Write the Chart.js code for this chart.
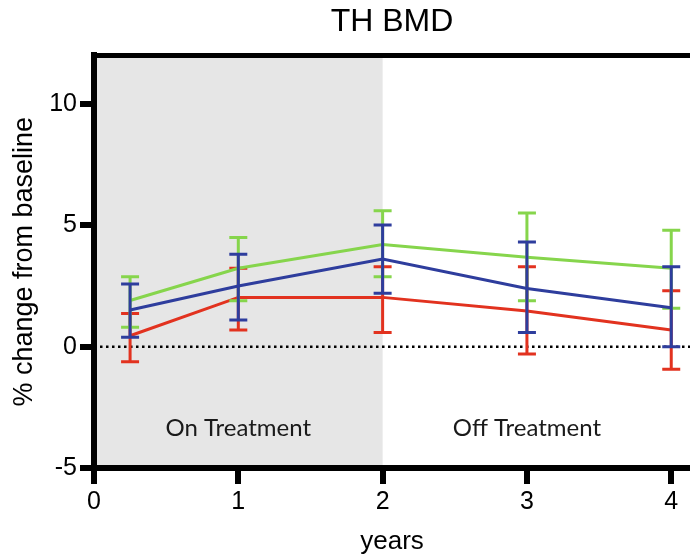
<!DOCTYPE html>
<html><head><meta charset="utf-8">
<script src="https://cdn.jsdelivr.net/npm/chart.js@4.4.0/dist/chart.umd.min.js"></script>
<style>html,body{margin:0;padding:0;background:#fff}#wrap{width:690px;height:555px;position:relative}</style>
</head><body><div id="wrap"><canvas id="c"></canvas></div>
<script>
// ---- data ----
const years = [0.25, 1, 2, 3, 4];
const greenMean  = [1.90, 3.23, 4.21, 3.68, 3.23];
const greenUpper = [2.88, 4.50, 5.60, 5.51, 4.80];
const greenLower = [0.80, 1.89, 2.88, 1.89, 1.58];
const blueMean   = [1.51, 2.50, 3.61, 2.40, 1.60];
const blueUpper  = [2.58, 3.81, 5.01, 4.31, 3.29];
const blueLower  = [0.39, 1.10, 2.20, 0.58, 0.00];
const redMean    = [0.45, 2.03, 2.03, 1.47, 0.69];
const redUpper   = [1.37, 3.23, 3.29, 3.29, 2.30];
const redLower   = [-0.62, 0.69, 0.58, -0.30, -0.93];
const xTicks = [0, 1, 2, 3, 4];
const yTicks = [-5, 0, 5, 10];
const treatmentEnd = 2;
const followEnd = 4;
const phaseLabels = ['On Treatment', 'Off Treatment'];

const toPts = arr => arr.map((v, i) => ({x: years[i], y: v}));

Chart.defaults.font.family = "'Liberation Sans', Arial, sans-serif";
Chart.defaults.color = '#000';

const bgPlugin = {
  id: 'bg',
  beforeDraw(chart) {
    const {ctx, chartArea: a, scales: {x, y}} = chart;
    ctx.save();
    const x0 = x.getPixelForValue(0), x1 = x.getPixelForValue(treatmentEnd);
    ctx.fillStyle = '#e6e6e6';
    ctx.fillRect(x0, a.top, x1 - x0, a.bottom - a.top);
    // zero line
    const y0 = y.getPixelForValue(0);
    ctx.strokeStyle = '#000';
    ctx.lineWidth = 2.5;
    ctx.setLineDash([2.5, 3.5]);
    ctx.beginPath(); ctx.moveTo(a.left + 6, y0); ctx.lineTo(a.right, y0); ctx.stroke();
    ctx.setLineDash([]);
    // phase labels
    ctx.font = "24px Lato, 'Open Sans', sans-serif";
    ctx.fillStyle = '#1a1a1a';
    ctx.textAlign = 'center';
    ctx.textBaseline = 'middle';
    const ly = y.getPixelForValue(-3.35);
    ctx.fillText(phaseLabels[0], x.getPixelForValue(treatmentEnd / 2), ly);
    ctx.fillText(phaseLabels[1], x.getPixelForValue((treatmentEnd + followEnd) / 2), ly);
    ctx.restore();
  },
  afterDraw(chart) {
    const {ctx, chartArea: a} = chart;
    ctx.save();
    ctx.strokeStyle = '#000';
    ctx.lineWidth = 5;
    ctx.beginPath(); ctx.moveTo(a.left - 3, a.top); ctx.lineTo(a.right, a.top); ctx.stroke();
    ctx.restore();
  }
};

const errPlugin = {
  id: 'err',
  afterDatasetDraw(chart, args) {
    const ds = chart.data.datasets[args.index];
    if (!ds.errLower) return;
    const {ctx, scales: {x, y}} = chart;
    ctx.save();
    ctx.strokeStyle = ds.borderColor;
    ctx.lineWidth = 3;
    ctx.lineCap = 'butt';
    for (let i = 0; i < years.length; i++) {
      const px = x.getPixelForValue(years[i]);
      const yt = y.getPixelForValue(ds.errUpper[i]);
      const yb = y.getPixelForValue(ds.errLower[i]);
      ctx.beginPath();
      ctx.moveTo(px, yt); ctx.lineTo(px, yb);
      ctx.moveTo(px - 9, yt); ctx.lineTo(px + 9, yt);
      ctx.moveTo(px - 9, yb); ctx.lineTo(px + 9, yb);
      ctx.stroke();
    }
    ctx.restore();
  }
};

const mk = (label, color, mean, lower, upper) => ({
  label, data: toPts(mean), borderColor: color, backgroundColor: color,
  borderWidth: 3, pointRadius: 0, tension: 0, fill: false,
  errLower: lower, errUpper: upper
});

new Chart(document.getElementById('c'), {
  type: 'line',
  data: {
    datasets: [
      mk('blue', '#2e3d9d', blueMean, blueLower, blueUpper),
      mk('green', '#86d54c', greenMean, greenLower, greenUpper),
      mk('red', '#e2321f', redMean, redLower, redUpper)
    ]
  },
  options: {
    responsive: true, maintainAspectRatio: false, animation: false,
    layout: {padding: 0},
    plugins: {
      legend: {display: false}, tooltip: {enabled: false},
      title: {display: true, text: 'TH BMD', fullSize: false, color: '#000',
        font: {size: 32, weight: 'normal', lineHeight: 1.2},
        padding: {top: 3, bottom: 14}}
    },
    scales: {
      x: {
        type: 'linear', min: 0, max: 4.13,
        afterBuildTicks: s => { s.ticks = xTicks.map(v => ({value: v})); },
        afterFit: s => { s.height = 87; },
        ticks: {font: {size: 25}, color: '#000', padding: 3, maxRotation: 0, autoSkip: false},
        grid: {display: true, drawOnChartArea: false, drawTicks: true, tickLength: 16, lineWidth: 6, color: '#000'},
        border: {display: true, width: 6, color: '#000'},
        title: {display: true, text: 'years', color: '#000', font: {size: 26, lineHeight: 1}, padding: {top: 0, bottom: 0}}
      },
      y: {
        type: 'linear', min: -5, max: 12,
        afterBuildTicks: s => { s.ticks = yTicks.map(v => ({value: v})); },
        afterFit: s => { s.width = 94; },
        ticks: {font: {size: 25}, color: '#000', padding: 3},
        grid: {display: true, drawOnChartArea: false, drawTicks: true, tickLength: 14, lineWidth: 6, color: '#000'},
        border: {display: true, width: 6, color: '#000'},
        title: {display: true, text: '% change from baseline', color: '#000', font: {size: 27, lineHeight: 1}, padding: {top: 11, bottom: 0}}
      }
    }
  },
  plugins: [bgPlugin, errPlugin]
});
</script>
</body></html>
